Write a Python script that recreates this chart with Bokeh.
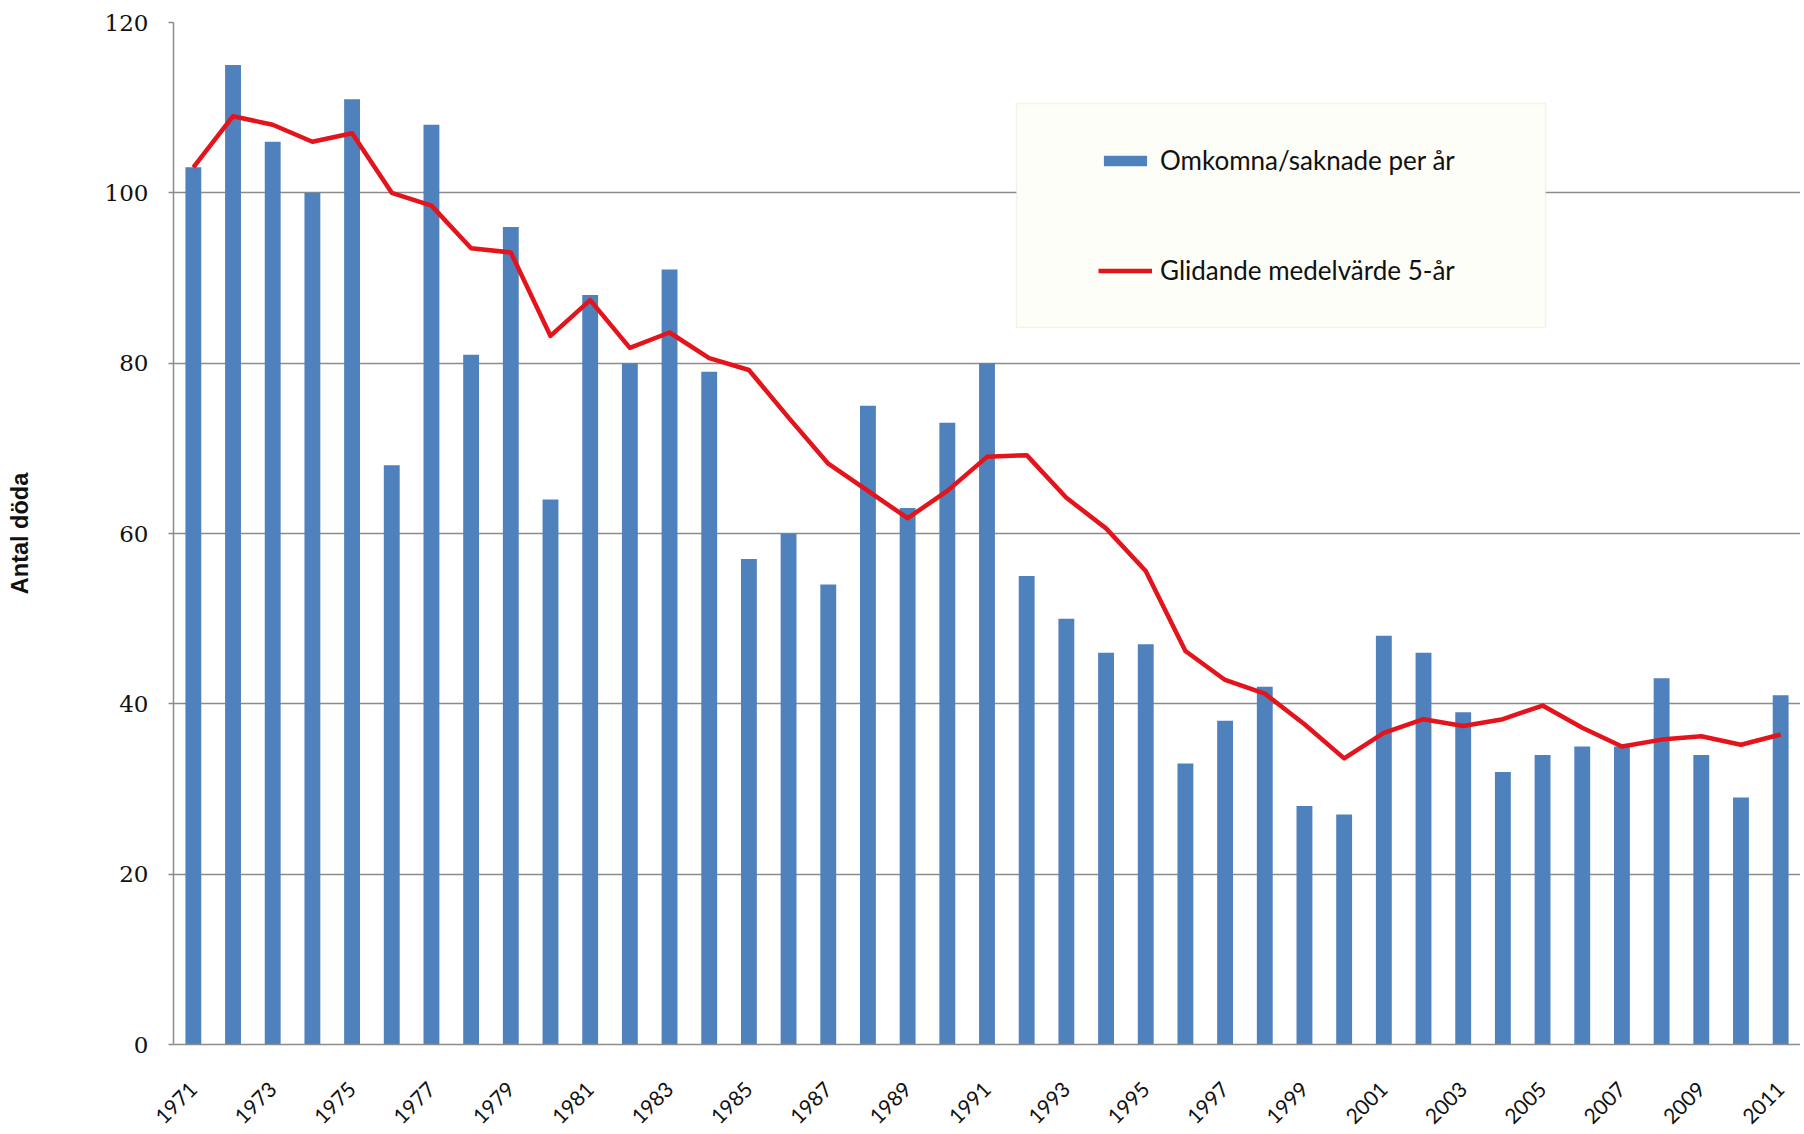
import math
from bokeh.plotting import figure
from bokeh.models import (Range1d, FixedTicker, BoxAnnotation, Legend, LegendItem,
                          ColumnDataSource)
from bokeh.embed import file_html
from bokeh.resources import INLINE

years = list(range(1971, 2012))
deaths = [103, 115, 106, 100, 111, 68, 108, 81, 96, 64,
          88, 80, 91, 79, 57, 60, 54, 75, 63, 73,
          80, 55, 50, 46, 47, 33, 38, 42, 28, 27,
          48, 46, 39, 32, 34, 35, 35, 43, 34, 29, 41]
moving_avg = [103, 109, 108, 106, 107, 100, 98.5, 93.5, 93, 83.2,
              87.4, 81.8, 83.6, 80.6, 79.2, 73.6, 68.2, 65, 61.8, 65,
              69, 69.2, 64.2, 60.6, 55.6, 46.2, 42.8, 41.2, 37.6, 33.6,
              36.6, 38.2, 37.4, 38.2, 39.8, 37.2, 35, 35.8, 36.2, 35.2, 36.4]
y_ticks = [0, 20, 40, 60, 80, 100, 120]
x_tick_years = list(range(1971, 2012, 2))
bar_label = "Omkomna/saknade per år"
line_label = "Glidande medelvärde 5-år"
y_title = "Antal döda"

src = ColumnDataSource(dict(year=years, deaths=deaths, avg=moving_avg))

p = figure(width=1800, height=1134, output_backend="svg", toolbar_location=None,
           x_range=Range1d(years[0] - 0.5, years[-1] + 0.5),
           y_range=Range1d(y_ticks[0], y_ticks[-1]),
           min_border_left=173, min_border_right=0, min_border_top=22,
           min_border_bottom=90, background_fill_color="white",
           border_fill_color="white")
p.outline_line_color = None

bars = p.vbar(x="year", top="deaths", width=0.4, bottom=0, source=src,
              fill_color="#4F81BD", line_color=None)
line = p.line(x="year", y="avg", source=src, line_color="#E3141B",
              line_width=4.5, line_join="round")

grid_col = "#8C8C8C"
p.xgrid.grid_line_color = None
p.ygrid.grid_line_color = grid_col
p.ygrid.grid_line_width = 1.5
p.yaxis.ticker = FixedTicker(ticks=y_ticks)
p.xaxis.ticker = FixedTicker(ticks=x_tick_years)
for ax in (p.xaxis, p.yaxis):
    ax.axis_line_color = grid_col
    ax.axis_line_width = 1.5
    ax.minor_tick_line_color = None
    ax.major_label_text_color = "#111111"
p.xaxis.major_tick_line_color = None
p.yaxis.major_tick_line_color = grid_col
p.yaxis.major_tick_line_width = 1.5
p.yaxis.major_tick_out = 5
p.yaxis.major_tick_in = 0

p.yaxis.major_label_text_font = "DejaVu Serif"
p.yaxis.major_label_text_font_size = "23px"
p.yaxis.major_label_standoff = 20
p.yaxis.axis_label = y_title
p.yaxis.axis_label_text_font = "Liberation Sans"
p.yaxis.axis_label_text_font_style = "bold"
p.yaxis.axis_label_text_font_size = "23.5px"
p.yaxis.axis_label_standoff = 69
p.yaxis.axis_label_text_color = "#111111"

p.xaxis.major_label_orientation = math.pi / 4
p.xaxis.major_label_text_font = "Lato"
p.xaxis.major_label_text_font_size = "21px"
p.xaxis.major_label_standoff = 35

box = BoxAnnotation(left=843, right=1372, bottom=717, top=941,
                    left_units="screen", right_units="screen",
                    bottom_units="screen", top_units="screen",
                    fill_color="#FEFEF8", fill_alpha=1.0,
                    line_color="#D8D8D0", line_width=1.5)
p.add_layout(box)

legend = Legend(items=[LegendItem(label=bar_label, renderers=[bars]),
                       LegendItem(label=line_label, renderers=[line])],
                location=(925, 758), padding=0, margin=0, spacing=78,
                glyph_width=54, glyph_height=13, label_height=32,
                label_standoff=8, border_line_color=None,
                background_fill_alpha=0.0,
                label_text_font="Lato", label_text_font_size="26px",
                label_text_color="#111111")
p.add_layout(legend)

open("out.html", "w").write(file_html(p, INLINE))
